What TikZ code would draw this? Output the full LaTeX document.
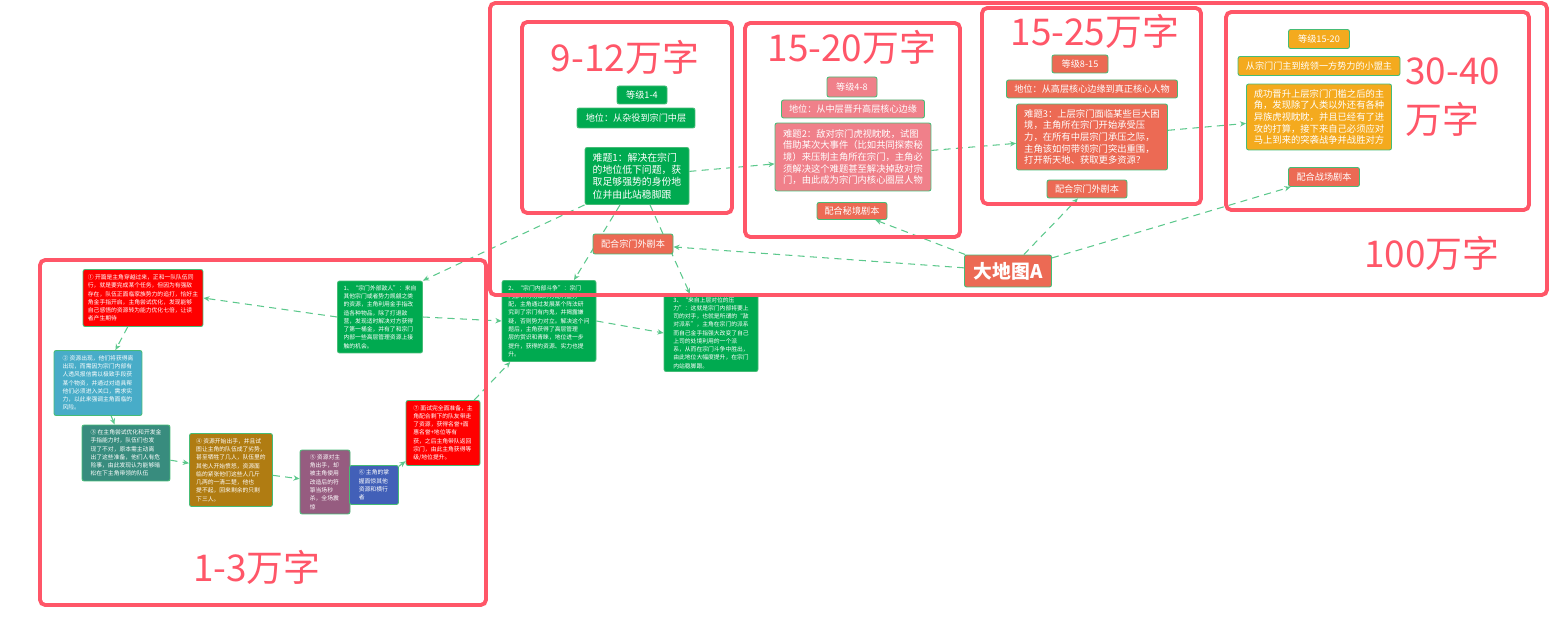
\documentclass[tikz,border=0pt]{standalone}
\usepackage{fontspec}
\setmainfont{Noto Sans CJK SC}
\usetikzlibrary{arrows.meta,backgrounds}

\definecolor{zoneRed}{RGB}{255,86,104}
\definecolor{linkGreen}{RGB}{92,200,140}
\definecolor{rimGreen}{RGB}{70,188,118}
\definecolor{cGreen}{RGB}{0,170,80}
\definecolor{cPink}{RGB}{240,128,138}
\definecolor{cCoral}{RGB}{236,106,84}
\definecolor{cAmber}{RGB}{244,170,30}
\definecolor{cRed}{RGB}{255,0,0}
\definecolor{cSky}{RGB}{72,172,200}
\definecolor{cTeal}{RGB}{56,140,126}
\definecolor{cBrown}{RGB}{176,124,18}
\definecolor{cPlum}{RGB}{150,92,128}
\definecolor{cNavy}{RGB}{66,96,184}

\tikzset{
  card/.style={draw=rimGreen, line width=0.5pt, rounded corners=1.2pt, text=white, inner sep=0pt},
  tag/.style={card, align=center, font=\fontsize{5.2}{6.4}\selectfont},
  para/.style={card, align=left, font=\fontsize{5.3}{6.6}\selectfont},
  tiny/.style={card, align=left, font=\fontsize{3.3}{4.7}\selectfont},
  zone/.style={draw=zoneRed, line width=2.2pt, rounded corners=3pt},
  words/.style={text=zoneRed, font=\fontsize{21}{28}\selectfont, inner sep=0pt},
  link/.style={draw=linkGreen, line width=0.6pt, dash pattern=on 4pt off 3pt, -{Stealth[length=3.5pt,width=3pt]}}
}

\begin{document}
\begin{tikzpicture}[x=0.02cm, y=-0.02cm]
  \useasboundingbox (0,0) rectangle (1554,628);

  \node[tag, fill=cGreen, minimum width=1cm, minimum height=0.36cm] (lvA) at (642,95) {等级1-4};
  \node[tag, fill=cGreen, minimum width=2.36cm, minimum height=0.4cm] (posA) at (636,118) {地位：从杂役到宗门中层};
  \node[para, fill=cGreen, minimum width=2.08cm, minimum height=1.14cm, font=\fontsize{5.6}{7}\selectfont] (qA) at (637,176)
    {难题1：解决在宗门\\的地位低下问题，获\\取足够强势的身份地\\位并由此站稳脚跟};

  \node[tag, fill=cPink, minimum width=1cm, minimum height=0.4cm] (lvB) at (852,87) {等级4-8};
  \node[tag, fill=cPink, minimum width=2.86cm, minimum height=0.36cm] (posB) at (853,109) {地位：从中层晋升高层核心边缘};
  \node[para, fill=cPink, minimum width=3.12cm, minimum height=1.36cm] (qB) at (853,157)
    {难题2：敌对宗门虎视眈眈，试图\\借助某次大事件（比如共同探索秘\\境）来压制主角所在宗门，主角必\\须解决这个难题甚至解决掉敌对宗\\门，由此成为宗门内核心圈层人物};
  \node[tag, fill=cCoral, minimum width=1.4cm, minimum height=0.34cm] (mapB) at (852,211) {配合秘境剧本};

  \node[tag, fill=cCoral, minimum width=1.12cm, minimum height=0.36cm] (lvC) at (1080,64) {等级8-15};
  \node[tag, fill=cCoral, minimum width=3.42cm, minimum height=0.36cm] (posC) at (1092,89) {地位：从高层核心边缘到真正核心人物};
  \node[para, fill=cCoral, minimum width=3.02cm, minimum height=1.32cm] (qC) at (1092,137)
    {难题3：上层宗门面临某些巨大困\\境，主角所在宗门开始承受压\\力，在所有中层宗门承压之际，\\主角该如何带领宗门突出重围，\\打开新天地、获取更多资源？};
  \node[tag, fill=cCoral, minimum width=1.6cm, minimum height=0.36cm] (mapC) at (1087,189) {配合宗门外剧本};

  \node[tag, fill=cAmber, minimum width=1.22cm, minimum height=0.38cm] (lvD) at (1319,39) {等级15-20};
  \node[tag, fill=cAmber, minimum width=3.24cm, minimum height=0.38cm] (posD) at (1319,66) {从宗门门主到统领一方势力的小盟主};
  \node[para, fill=cAmber, minimum width=2.9cm, minimum height=1.32cm] (qD) at (1319,117)
    {成功晋升上层宗门门槛之后的主\\角，发现除了人类以外还有各种\\异族虎视眈眈，并且已经有了进\\攻的打算，接下来自己必须应对\\马上到来的突袭战争并战胜对方};
  \node[tag, fill=cCoral, minimum width=1.42cm, minimum height=0.38cm] (mapD) at (1324,177) {配合战场剧本};

  \node[tag, fill=cCoral, minimum width=1.6cm, minimum height=0.4cm] (mapA) at (633,244) {配合宗门外剧本};
  \node[card, fill=cCoral, minimum width=1.74cm, minimum height=0.64cm, font=\fontsize{10.7}{12}\selectfont\bfseries] (bigMap) at (1008,271) {大地图A};

  \node[tiny, fill=cRed, minimum width=2.4cm, minimum height=1.14cm] (s1) at (143,298)
    {① 开篇是主角穿越过来，正和一队队伍同\\行，就是要完成某个任务，但因为有强敌\\存在，队伍正面临家族势力的追打，恰好主\\角金手指开启，主角尝试优化，发现能够\\自己感悟的资源转为能力优化七倍，让读\\者产生期待};
  \node[tiny, fill=cGreen, minimum width=1.7cm, minimum height=1.44cm] (e1) at (380,317)
    {1、“宗门外部敌人”：来自\\其他宗门或者势力觊觎之类\\的资源，主角利用金手指改\\造各种物品，除了打退敌\\营，发现适时解决对方获得\\了第一桶金，并有了和宗门\\内部一些高层管理资源上接\\触的机会。};
  \node[tiny, fill=cGreen, minimum width=1.88cm, minimum height=1.62cm] (e2) at (549,321)
    {2、“宗门内部斗争”：宗门\\内部针对功法的分配利益分\\配，主角通过发展某个阵法研\\究到了宗门有内鬼，并揭露嫌\\疑，否则势力对立。解决这个问\\题后，主角获得了高层管理\\层的赏识和青睐，地位进一步\\提升，获得的资源、实力也提\\升。};
  \node[tiny, fill=cGreen, minimum width=1.88cm, minimum height=1.54cm] (e3) at (711,333)
    {3、“来自上层对位的压\\力”：这就是宗门内部将要上\\司的对手，也就是所谓的“敌\\对派系”，主角在宗门的派系\\而自己金手指强大改变了自己\\上司的处境利用的一个派\\系，从而在宗门斗争中胜出，\\由此地位大幅度提升，在宗门\\内站稳脚跟。};
  \node[tiny, fill=cSky, minimum width=1.76cm, minimum height=1.3cm] (s2) at (98,383)
    {② 资源出现，他们将获得离\\出现，而需因为宗门内部有\\人透风报信需以极致手段获\\某个物资，并通过对道具帮\\他们必须进入关口，需求实\\力，以此来强调主角面临的\\风险。};
  \node[tiny, fill=cTeal, minimum width=1.76cm, minimum height=1.12cm] (s3) at (126,453)
    {③ 在主角尝试优化和开发金\\手指能力时，队伍们也发\\现了不对，原本需主动离\\出了这些准备，他们人有危\\险事，由此发现认为能够暗\\松在下主角带领的队伍};
  \node[tiny, fill=cBrown, minimum width=1.66cm, minimum height=1.46cm] (s4) at (231,470)
    {④ 资源开始出手，并且试\\图让主角的队伍成了劣势，\\甚至牺牲了几人，队伍里的\\其他人开始愤怒，资源面\\临的紧张他们这些人几斤\\几两的一清二楚，他也\\提不起，回来剩余的只剩\\下三人。};
  \node[tiny, fill=cPlum, minimum width=1cm, minimum height=1.28cm] (s5) at (325,482)
    {⑤ 资源对主\\角出手，却\\被主角使用\\改造后的符\\箓当场秒\\杀，全场震\\惊};
  \node[tiny, fill=cNavy, minimum width=0.98cm, minimum height=0.78cm] (s6) at (374,485)
    {⑥ 主角的掌\\握面惊其他\\资源和横行\\者};
  \node[tiny, fill=cRed, minimum width=1.48cm, minimum height=1.3cm] (s7) at (443,433)
    {⑦ 面试完全面准备，主\\角配合剩下的队友带走\\了资源，获得名誉+面\\惠名誉+地位等有\\获，之后主角带队返回\\宗门，由此主角获得等\\级/地位提升。};

  \begin{scope}[on background layer]
    \draw[link] (qA) -- (qB);
    \draw[link] (qB) -- (qC);
    \draw[link] (qC) -- (qD);
    \draw[link] (bigMap) -- (mapB);
    \draw[link] (bigMap) -- (mapA);
    \draw[link] (bigMap) -- (mapC);
    \draw[link] (bigMap) -- (mapD);
    \draw[link] (qA.south west) -- (e1.north east);
    \draw[link] ([xshift=-0.34cm]qA.south) -- ([xshift=0.5cm]e2.north);
    \draw[link] ([xshift=0.26cm]qA.south) -- ([xshift=-0.42cm]e3.north);
    \draw[link] (e1.west) -- (s1.east);
    \draw[link] (e1.east) -- (e2.west);
    \draw[link] (e2.east) -- (e3.west);
    \draw[link] (s1) -- (s2);
    \draw[link] (s2) -- (s3);
    \draw[link] (s3) -- (s4);
    \draw[link] (s4) -- (s5);
    \draw[link] (s6) -- (s7);
    \draw[link] (s7) -- (e2);
  \end{scope}

  \foreach \xa/\ya/\xb/\yb in {490/3/1547/295, 522/22/732/213, 745/23/960/237,
                               982/8/1201/204, 1226/12/1529/210, 40/260/486/605} {
    \draw[zone] (\xa,\ya) rectangle (\xb,\yb);
  }

  \node[words] (wA) at (625,57) {9-12万字};
  \node[words] (wB) at (852,47) {15-20万字};
  \node[words] (wC) at (1095,31) {15-25万字};
  \node[words, anchor=west, align=left] (wD) at (1405,97) {30-40\\万字};
  \node[words] (wAll) at (1432,253) {100万字};
  \node[words] (wLow) at (257,567) {1-3万字};
\end{tikzpicture}
\end{document}
